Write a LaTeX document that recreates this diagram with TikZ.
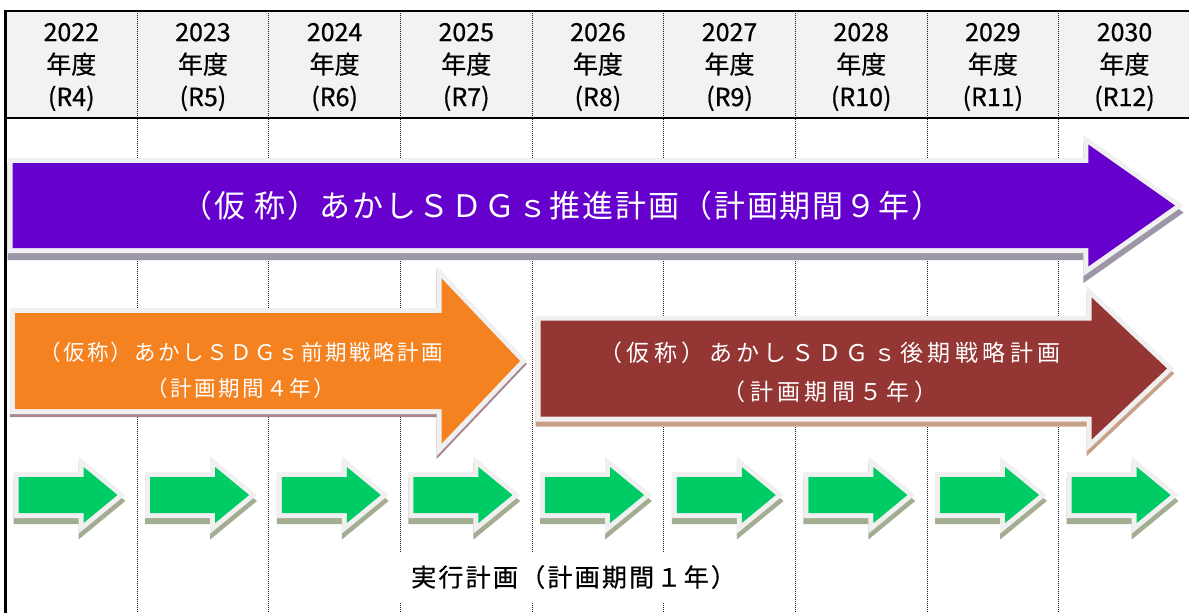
\documentclass[tikz,border=0pt]{standalone}
\usepackage{fontspec}
\setmainfont{Noto Sans CJK JP}
\newfontfamily\hdrfont[FakeBold=0.6]{Noto Sans CJK JP}
\usepackage{tikz}
\usetikzlibrary{positioning}
\definecolor{hdrgray}{RGB}{242,242,242}
\definecolor{glow}{RGB}{240,240,240}
\definecolor{violet9}{RGB}{102,0,204}
\definecolor{violet9shadow}{RGB}{156,150,166}
\definecolor{orange4}{RGB}{245,130,32}
\definecolor{orange4shadow}{RGB}{168,135,143}
\definecolor{brown5}{RGB}{148,54,52}
\definecolor{brown5shadow}{RGB}{200,160,136}
\definecolor{green1}{RGB}{0,204,102}
\definecolor{green1shadow}{RGB}{163,173,146}

% block arrow: fill, shadow, shadow shift, x left, x head, x tip, y mid, body half, head half
\newcommand{\planarrow}[9]{%
	\path[preaction={draw=#2, fill=#2, line width=10pt, line join=miter,
			transform canvas={yshift=-#3pt}},
		preaction={draw=glow, line width=10pt, line join=miter},
		fill=#1]
	({#4},{#7-#8}) -- ({#5},{#7-#8}) -- ({#5},{#7-#9}) -- ({#6},{#7})
	-- ({#5},{#7+#9}) -- ({#5},{#7+#8}) -- ({#4},{#7+#8}) -- cycle;
}

\begin{document}
\begin{tikzpicture}[x=1pt, y=-1pt,
		divider/.style = {draw=black!90, line width=1pt, dash pattern=on 1pt off 1pt},
		yearlabel/.style = {align=center, inner sep=0pt,
			font=\hdrfont\fontsize{25}{32.5}\selectfont},
		planlabel/.style = {align=center, inner sep=0pt, text=white}]
	
	\useasboundingbox (0,0) rectangle (1189,613);
	
	% Header
	\fill[hdrgray] (5.5,11) rectangle (1189,118);
	
	% Column dividers
	\foreach \i in {1,...,8}
		\draw[divider] ({5.5+131.65*\i},11) -- ({5.5+131.65*\i},613);
	
	\draw[line width=2pt] (5.5,11) -- (1189,11);
	\draw[line width=2.5pt] (5.5,118) -- (1189,118);
	\draw[line width=2.5pt] (5.5,10) -- (5.5,613);
	
	\foreach \yr [count=\i from 0, evaluate=\i as \rn using int(\i+4)] in {2022,...,2030}
		\node[yearlabel] (yr\yr) at ({71.3+131.65*\i},67) {\yr\\年度\\(R\rn)};
	
	% Plan 9 years
	\planarrow{violet9}{violet9shadow}{7}{12.6}{1088.3}{1175}{205.5}{42.5}{61}
	\node[planlabel, font=\fontsize{31}{37}\selectfont\addfontfeatures{LetterSpace=6}]
		(plan9) at (562,206) {（仮 称）あかしＳＤＧｓ推進計画（計画期間９年）};
	
	% Plan 4 years
	\planarrow{orange4}{orange4shadow}{3}{15}{441.7}{520}{361}{48}{82.5}
	\node[planlabel, font=\fontsize{21.5}{36}\selectfont\addfontfeatures{LetterSpace=11}]
		(plan4) at (241,370) {（仮称）あかしＳＤＧｓ前期戦略計画\\（計画期間４年）};
	
	% Plan 5 years
	\planarrow{brown5}{brown5shadow}{5}{540.7}{1091.7}{1167}{368.5}{48}{71}
	\node[planlabel, font=\fontsize{23}{39}\selectfont\addfontfeatures{LetterSpace=19}]
		(plan5) at (830,372) {（仮称）あかしＳＤＧｓ後期戦略計画\\（計画期間５年）};
	
	% Yearly plans
	\foreach \i in {0,...,8}{
		\planarrow{green1}{green1shadow}{6}{5.5+131.65*\i+13}{5.5+131.65*\i+78}{5.5+131.65*\i+112}{495}{18}{28}
	}
	
	\node[fill=white, anchor=west, inner xsep=12pt, minimum height=50pt,
		font=\hdrfont\fontsize{25}{28}\selectfont\addfontfeatures{LetterSpace=9}]
		(plan1) at (399,577) {実行計画（計画期間１年）};
\end{tikzpicture}
\end{document}
